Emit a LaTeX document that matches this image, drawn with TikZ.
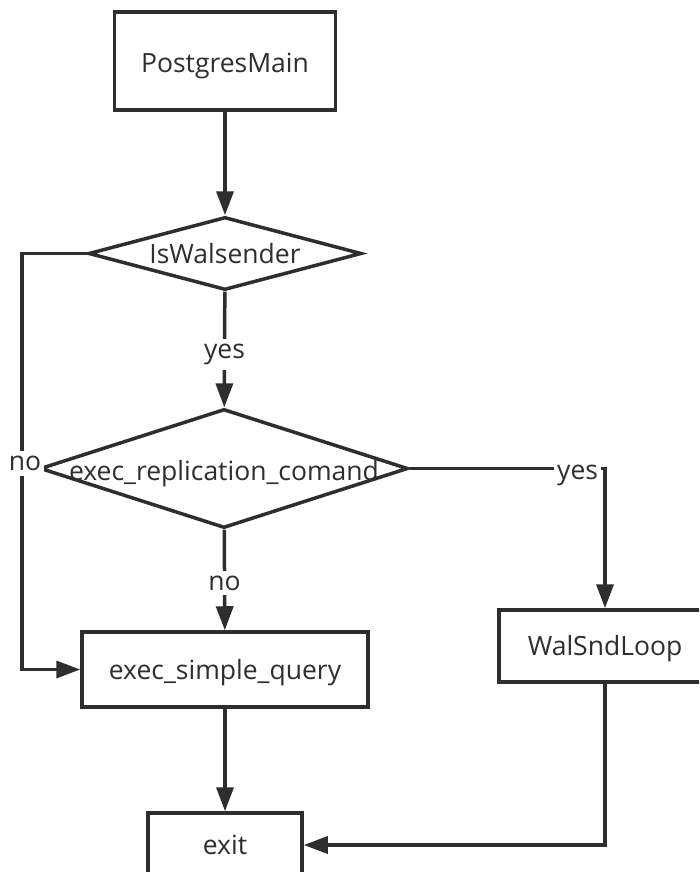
\documentclass[tikz,border=0pt]{standalone}
\usepackage{fontspec}
\setmainfont{Open Sans}
\usetikzlibrary{shapes.geometric,arrows.meta}
\definecolor{ink}{HTML}{2E2E2E}
\newcommand{\lowtxt}[2]{\raisebox{-#1}[\height][\depth]{#2}}
\begin{document}
\begin{tikzpicture}[x=1pt,y=-1pt,
  every node/.style={font=\fontsize{26.5}{31}\selectfont, text=ink},
  box/.style={draw=ink, line width=3.5pt, rectangle, inner sep=0pt},
  dec/.style={draw=ink, line width=3.5pt, diamond, inner sep=0pt},
  arr/.style={draw=ink, line width=3.5pt, -{Triangle[length=24pt,width=17pt]}},
  lbl/.style={fill=white, inner xsep=3pt, inner ysep=5pt}]
\useasboundingbox (0,0) rectangle (699,872);
\clip (0,0) rectangle (699,872);
\fill[white] (0,0) rectangle (699,872);

\node[box, minimum width=221pt, minimum height=98pt] (pm) at (225,61) {\lowtxt{5pt}{PostgresMain}};
\node[dec, minimum width=273pt, minimum height=73pt] (isw) at (225,253.5) {\makebox[0pt]{IsWalsender}};
\node[dec, minimum width=368pt, minimum height=119pt] (rep) at (224,468.5) {\makebox[0pt]{\lowtxt{5pt}{exec\_replication\_comand}}};
\node[box, minimum width=286pt, minimum height=75pt] (esq) at (225,669.5) {\lowtxt{3pt}{exec\_simple\_query}};
\node[box, minimum width=212pt, minimum height=72pt] (wsl) at (605,646) {\lowtxt{3pt}{WalSndLoop}};
\node[box, minimum width=154pt, minimum height=64pt] (ex) at (225,845) {exit};

\coordinate (lx) at (22,253.5);

\draw[arr] (pm) -- (isw);
\draw[arr] (isw) -- node[lbl, yshift=-5pt]{yes} (rep);
\draw[arr] (rep) -- node[lbl, yshift=-3pt]{no} (esq);
\draw[arr] (isw.west) -- (lx) |- node[lbl, pos=0.25, xshift=3pt, yshift=-2pt]{no} (esq.west);
\draw[arr] (rep.east) -| node[lbl, pos=0.43, yshift=-7pt]{yes} (wsl.north);
\draw[arr] (esq) -- (ex);
\draw[arr] (wsl.south) |- (ex.east);
\end{tikzpicture}
\end{document}
